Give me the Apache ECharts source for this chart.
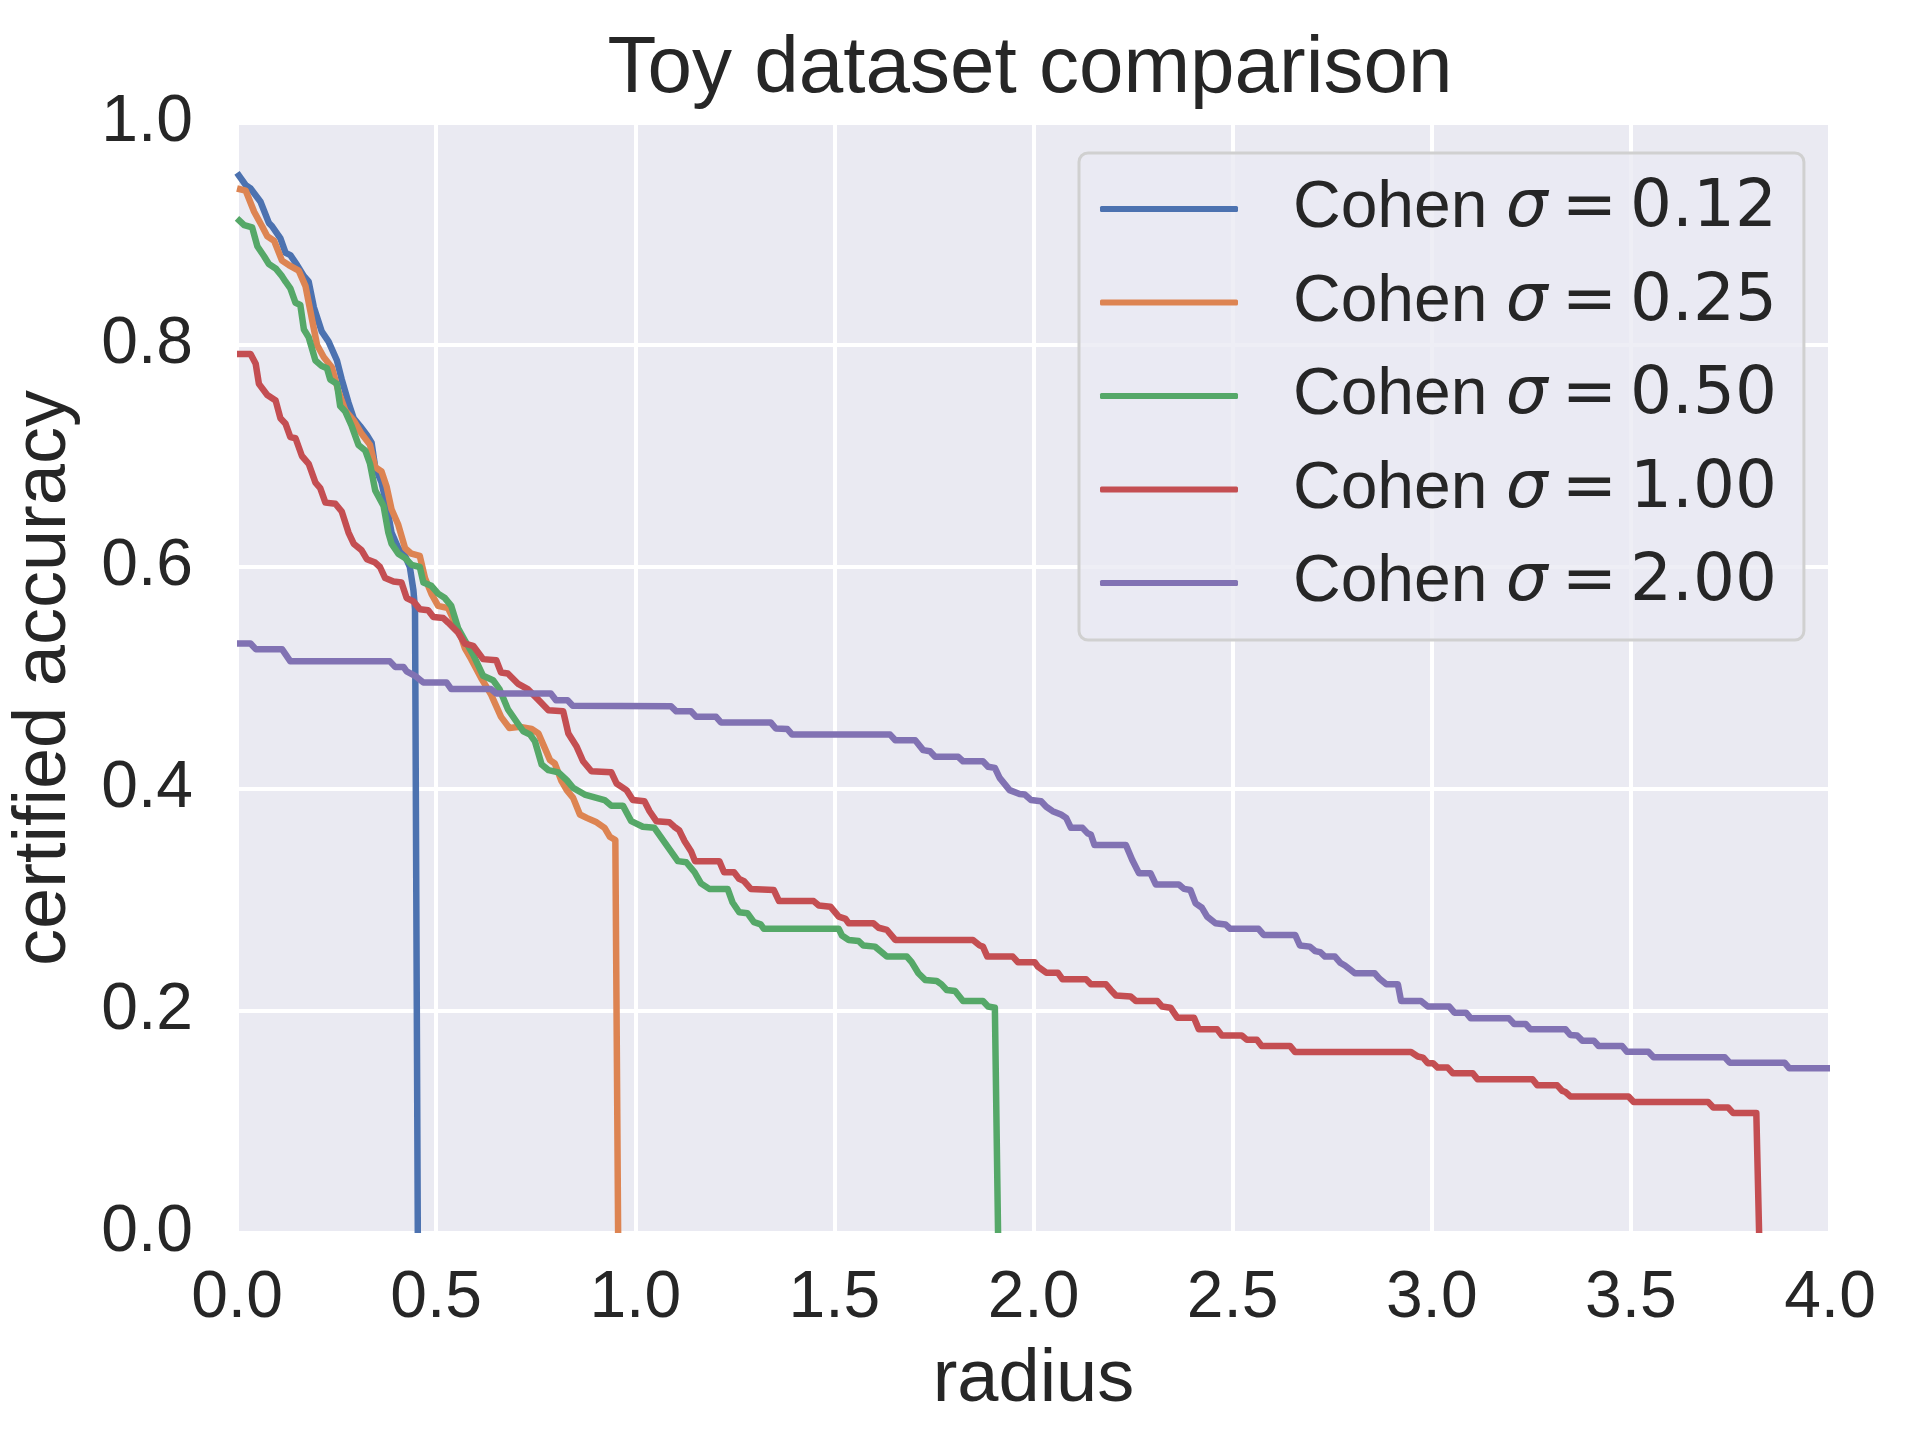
<!DOCTYPE html>
<html>
<head>
<meta charset="utf-8">
<title>Toy dataset comparison</title>
<script src="https://cdn.jsdelivr.net/npm/echarts@6/dist/echarts.min.js"></script>
<style>
  html, body { margin: 0; padding: 0; background: #fff; }
  #chart { width: 1920px; height: 1440px; }
</style>
</head>
<body>
<div id="chart"></div>
<script>
// certified accuracy curves, [radius, accuracy]
var seriesNames = ['Cohen σ = 0.12', 'Cohen σ = 0.25', 'Cohen σ = 0.50', 'Cohen σ = 1.00', 'Cohen σ = 2.00'];

var sigma012 = [
  [0, 0.955], [0.022, 0.944], [0.034, 0.941], [0.059, 0.929], [0.08, 0.910], [0.088, 0.907],
  [0.109, 0.896], [0.122, 0.883], [0.134, 0.881], [0.151, 0.872], [0.168, 0.862], [0.18, 0.857],
  [0.193, 0.834], [0.213, 0.812], [0.23, 0.803], [0.251, 0.786], [0.263, 0.769], [0.28, 0.748],
  [0.293, 0.734], [0.309, 0.727], [0.326, 0.719], [0.338, 0.712], [0.347, 0.690], [0.363, 0.676],
  [0.376, 0.655], [0.388, 0.631], [0.405, 0.617], [0.422, 0.610], [0.434, 0.600], [0.443, 0.579],
  [0.447, 0.562], [0.449, 0.562], [0.454, 0]
];

var sigma025 = [
  [0, 0.941], [0.022, 0.939], [0.043, 0.920], [0.063, 0.907], [0.076, 0.898], [0.093, 0.894],
  [0.113, 0.876], [0.13, 0.872], [0.155, 0.867], [0.172, 0.853], [0.184, 0.831], [0.201, 0.800],
  [0.218, 0.789], [0.238, 0.780], [0.255, 0.758], [0.272, 0.741], [0.293, 0.732], [0.313, 0.720],
  [0.334, 0.710], [0.347, 0.690], [0.363, 0.686], [0.376, 0.672], [0.388, 0.652], [0.405, 0.638],
  [0.422, 0.617], [0.438, 0.612], [0.459, 0.610], [0.472, 0.590], [0.488, 0.576], [0.505, 0.565],
  [0.53, 0.563], [0.559, 0.541], [0.572, 0.527], [0.588, 0.517], [0.613, 0.500], [0.638, 0.485],
  [0.663, 0.465], [0.684, 0.455], [0.711, 0.456], [0.74, 0.454], [0.757, 0.450], [0.769, 0.440],
  [0.786, 0.426], [0.798, 0.423], [0.815, 0.407], [0.828, 0.399], [0.844, 0.392], [0.861, 0.377],
  [0.878, 0.374], [0.903, 0.370], [0.923, 0.365], [0.936, 0.357], [0.95, 0.354], [0.957, 0]
];

var sigma050 = [
  [0, 0.914], [0.018, 0.908], [0.038, 0.906], [0.051, 0.889], [0.068, 0.880], [0.08, 0.873],
  [0.097, 0.869], [0.113, 0.862], [0.122, 0.857], [0.134, 0.851], [0.147, 0.838], [0.159, 0.836],
  [0.168, 0.814], [0.18, 0.807], [0.197, 0.786], [0.213, 0.781], [0.226, 0.779], [0.234, 0.769],
  [0.251, 0.765], [0.259, 0.745], [0.272, 0.740], [0.288, 0.727], [0.305, 0.710], [0.322, 0.705],
  [0.334, 0.693], [0.347, 0.669], [0.368, 0.655], [0.38, 0.631], [0.388, 0.621], [0.405, 0.612],
  [0.422, 0.608], [0.438, 0.602], [0.459, 0.600], [0.468, 0.586], [0.488, 0.583], [0.505, 0.576],
  [0.522, 0.572], [0.538, 0.565], [0.555, 0.545], [0.572, 0.534], [0.593, 0.521], [0.618, 0.502],
  [0.643, 0.498], [0.659, 0.490], [0.68, 0.472], [0.705, 0.459], [0.719, 0.452], [0.736, 0.449],
  [0.748, 0.443], [0.765, 0.422], [0.782, 0.417], [0.807, 0.415], [0.828, 0.408], [0.844, 0.401],
  [0.873, 0.395], [0.923, 0.390], [0.94, 0.385], [0.969, 0.385], [0.99, 0.371], [1.019, 0.366],
  [1.048, 0.365], [1.107, 0.335], [1.128, 0.334], [1.149, 0.325], [1.165, 0.315], [1.186, 0.310],
  [1.232, 0.310], [1.244, 0.298], [1.261, 0.289], [1.282, 0.288], [1.298, 0.280], [1.315, 0.278],
  [1.323, 0.274], [1.511, 0.274], [1.519, 0.268], [1.536, 0.264], [1.561, 0.263], [1.573, 0.259],
  [1.602, 0.258], [1.619, 0.253], [1.632, 0.249], [1.682, 0.249], [1.694, 0.244], [1.711, 0.234],
  [1.728, 0.228], [1.757, 0.227], [1.769, 0.224], [1.782, 0.219], [1.803, 0.218], [1.823, 0.209],
  [1.873, 0.209], [1.886, 0.204], [1.903, 0.203], [1.911, 0]
];

var sigma100 = [
  [0, 0.792], [0.034, 0.792], [0.047, 0.783], [0.055, 0.765], [0.076, 0.755], [0.097, 0.750],
  [0.109, 0.734], [0.122, 0.729], [0.134, 0.717], [0.147, 0.716], [0.163, 0.700], [0.18, 0.693],
  [0.197, 0.676], [0.209, 0.671], [0.222, 0.658], [0.247, 0.657], [0.263, 0.650], [0.28, 0.631],
  [0.293, 0.621], [0.313, 0.615], [0.326, 0.607], [0.347, 0.604], [0.359, 0.600], [0.372, 0.590],
  [0.393, 0.587], [0.413, 0.586], [0.426, 0.572], [0.443, 0.569], [0.459, 0.562], [0.48, 0.561],
  [0.493, 0.555], [0.518, 0.554], [0.53, 0.550], [0.555, 0.541], [0.572, 0.531], [0.593, 0.529],
  [0.618, 0.517], [0.651, 0.516], [0.663, 0.505], [0.68, 0.504], [0.705, 0.495], [0.73, 0.490],
  [0.755, 0.481], [0.782, 0.471], [0.819, 0.470], [0.832, 0.450], [0.853, 0.438], [0.869, 0.425],
  [0.89, 0.416], [0.94, 0.415], [0.953, 0.405], [0.978, 0.399], [0.994, 0.390], [1.023, 0.389],
  [1.036, 0.380], [1.053, 0.371], [1.086, 0.370], [1.098, 0.366], [1.11, 0.363], [1.124, 0.353],
  [1.14, 0.344], [1.15, 0.335], [1.211, 0.335], [1.223, 0.325], [1.248, 0.325], [1.261, 0.319],
  [1.273, 0.317], [1.29, 0.310], [1.348, 0.309], [1.361, 0.299], [1.448, 0.299], [1.461, 0.295],
  [1.49, 0.294], [1.511, 0.285], [1.528, 0.283], [1.536, 0.279], [1.598, 0.279], [1.611, 0.275],
  [1.632, 0.273], [1.653, 0.264], [1.848, 0.264], [1.865, 0.259], [1.873, 0.258], [1.884, 0.249],
  [1.948, 0.249], [1.961, 0.244], [2.003, 0.244], [2.011, 0.240], [2.032, 0.2345], [2.061, 0.2345],
  [2.073, 0.2285], [2.132, 0.2285], [2.144, 0.224], [2.182, 0.224], [2.194, 0.219], [2.207, 0.214],
  [2.244, 0.213], [2.257, 0.209], [2.311, 0.209], [2.323, 0.204], [2.344, 0.203], [2.361, 0.194],
  [2.403, 0.194], [2.415, 0.1835], [2.461, 0.1835], [2.473, 0.178], [2.523, 0.178], [2.536, 0.174],
  [2.561, 0.174], [2.573, 0.1685], [2.644, 0.1685], [2.657, 0.163], [2.948, 0.163], [2.965, 0.159],
  [2.978, 0.158], [2.99, 0.153], [3.003, 0.153], [3.015, 0.149], [3.04, 0.149], [3.053, 0.144],
  [3.103, 0.144], [3.115, 0.1385], [3.253, 0.1385], [3.265, 0.133], [3.315, 0.133], [3.328, 0.128],
  [3.336, 0.127], [3.348, 0.123], [3.494, 0.123], [3.507, 0.118], [3.694, 0.118], [3.707, 0.113],
  [3.744, 0.113], [3.757, 0.108], [3.815, 0.108], [3.822, 0]
];

var sigma200 = [
  [0, 0.531], [0.034, 0.531], [0.047, 0.526], [0.113, 0.526], [0.134, 0.515], [0.384, 0.515],
  [0.397, 0.510], [0.418, 0.510], [0.426, 0.506], [0.447, 0.502], [0.468, 0.496], [0.526, 0.496],
  [0.538, 0.490], [0.638, 0.490], [0.651, 0.486], [0.788, 0.486], [0.801, 0.480], [0.83, 0.480],
  [0.843, 0.475], [1.09, 0.4745], [1.103, 0.470], [1.14, 0.470], [1.153, 0.465], [1.203, 0.465],
  [1.215, 0.460], [1.34, 0.460], [1.353, 0.4545], [1.382, 0.454], [1.394, 0.449], [1.64, 0.449],
  [1.653, 0.444], [1.703, 0.444], [1.723, 0.435], [1.74, 0.434], [1.753, 0.429], [1.811, 0.429],
  [1.823, 0.425], [1.873, 0.425], [1.886, 0.420], [1.903, 0.419], [1.915, 0.410], [1.94, 0.399],
  [1.965, 0.3955], [1.978, 0.395], [1.994, 0.390], [2.019, 0.389], [2.032, 0.384], [2.048, 0.380],
  [2.069, 0.377], [2.082, 0.374], [2.094, 0.365], [2.123, 0.365], [2.136, 0.360], [2.144, 0.359],
  [2.153, 0.3495], [2.232, 0.3495], [2.248, 0.336], [2.265, 0.324], [2.294, 0.324], [2.307, 0.314],
  [2.365, 0.314], [2.378, 0.310], [2.394, 0.309], [2.407, 0.297], [2.423, 0.293], [2.436, 0.285],
  [2.457, 0.279], [2.482, 0.278], [2.494, 0.274], [2.565, 0.274], [2.578, 0.2685], [2.657, 0.2685],
  [2.669, 0.259], [2.694, 0.258], [2.707, 0.254], [2.72, 0.253], [2.732, 0.249], [2.757, 0.249],
  [2.77, 0.2435], [2.782, 0.241], [2.807, 0.234], [2.857, 0.234], [2.869, 0.229], [2.886, 0.224],
  [2.915, 0.224], [2.923, 0.209], [2.973, 0.209], [2.99, 0.204], [3.044, 0.204], [3.057, 0.1985],
  [3.086, 0.1985], [3.098, 0.1934], [3.194, 0.1934], [3.207, 0.1883], [3.236, 0.1883], [3.248, 0.1835],
  [3.336, 0.1835], [3.348, 0.1784], [3.365, 0.178], [3.378, 0.1733], [3.407, 0.1733], [3.419, 0.1685],
  [3.478, 0.1685], [3.49, 0.1633], [3.544, 0.1633], [3.557, 0.1583], [3.736, 0.1583], [3.748, 0.1534],
  [3.886, 0.1534], [3.898, 0.1484], [4.0, 0.1484]
];

var curves = [sigma012, sigma025, sigma050, sigma100, sigma200];
var palette = ['#4C72B0', '#DD8452', '#55A868', '#C44E52', '#8172B3'];

var textColor = '#262626';
var sansFont = '"Liberation Sans", Arial, sans-serif';
var mathFont = '"DejaVu Sans", sans-serif';

var chart = echarts.init(document.getElementById('chart'));

var series = [];
for (var i = 0; i < curves.length; i++) {
    series.push({
        name: seriesNames[i],
        type: 'line',
        data: curves[i],
        showSymbol: false,
        symbol: 'none',
        clip: true,
        lineStyle: { color: palette[i], width: 6.5, join: 'round', cap: 'butt' },
        itemStyle: { color: palette[i] }
    });
}

chart.setOption({
    animation: false,
    backgroundColor: '#ffffff',
    title: {
        text: 'Toy dataset comparison',
        left: 1030,
        top: 30,
        padding: 0,
        textAlign: 'center',
        textStyle: { fontFamily: sansFont, fontSize: 80, fontWeight: 'normal', color: textColor }
    },
    grid: {
        left: 229, right: 90, top: 123, bottom: 207,
        show: true, backgroundColor: '#EAEAF2', borderWidth: 0
    },
    legend: {
        orient: 'vertical',
        left: 1079,
        top: 153,
        padding: [19, 27, 20, 21],
        itemGap: 19.5,
        itemWidth: 138,
        itemHeight: 6,
        icon: 'roundRect',
        backgroundColor: 'rgba(234,234,242,0.8)',
        borderColor: '#D0D0D0',
        borderWidth: 3,
        borderRadius: 9,
        data: seriesNames,
        formatter: function (name) {
            var parts = name.split(' ');
            return '{g|}{a|' + parts[0] + ' }{s|' + parts[1] + '}{e|' + parts[2] + '}{n|' + parts[3] + '}';
        },
        textStyle: {
            color: textColor,
            fontSize: 66,
            lineHeight: 74,
            rich: {
                g: { width: 50 },
                a: { fontFamily: sansFont, fontSize: 66, lineHeight: 74, color: textColor },
                s: { fontFamily: mathFont, fontStyle: 'italic', fontSize: 66, lineHeight: 74, color: textColor },
                e: { fontFamily: mathFont, fontSize: 66, lineHeight: 74, color: textColor, padding: [0, 13, 0, 14] },
                n: { fontFamily: mathFont, fontSize: 66, lineHeight: 74, color: textColor }
            }
        }
    },
    xAxis: {
        type: 'value',
        min: 0,
        max: 4,
        interval: 0.5,
        name: 'radius',
        nameLocation: 'middle',
        nameGap: 111,
        nameTextStyle: { fontFamily: sansFont, fontSize: 74, color: textColor },
        axisLine: { show: false },
        axisTick: { show: false },
        axisLabel: {
            margin: 33,
            fontFamily: sansFont,
            fontSize: 66,
            color: textColor,
            formatter: function (v) { return v.toFixed(1); }
        },
        splitLine: { show: true, lineStyle: { color: '#ffffff', width: 4 } }
    },
    yAxis: {
        type: 'value',
        min: 0,
        max: 1,
        interval: 0.2,
        name: 'certified accuracy',
        nameLocation: 'middle',
        nameGap: 155,
        nameTextStyle: { fontFamily: sansFont, fontSize: 74, color: textColor },
        axisLine: { show: false },
        axisTick: { show: false },
        axisLabel: {
            margin: 44,
            fontFamily: sansFont,
            fontSize: 66,
            color: textColor,
            formatter: function (v) { return v.toFixed(1); }
        },
        splitLine: { show: true, lineStyle: { color: '#ffffff', width: 4 } }
    },
    series: series
});
</script>
</body>
</html>
